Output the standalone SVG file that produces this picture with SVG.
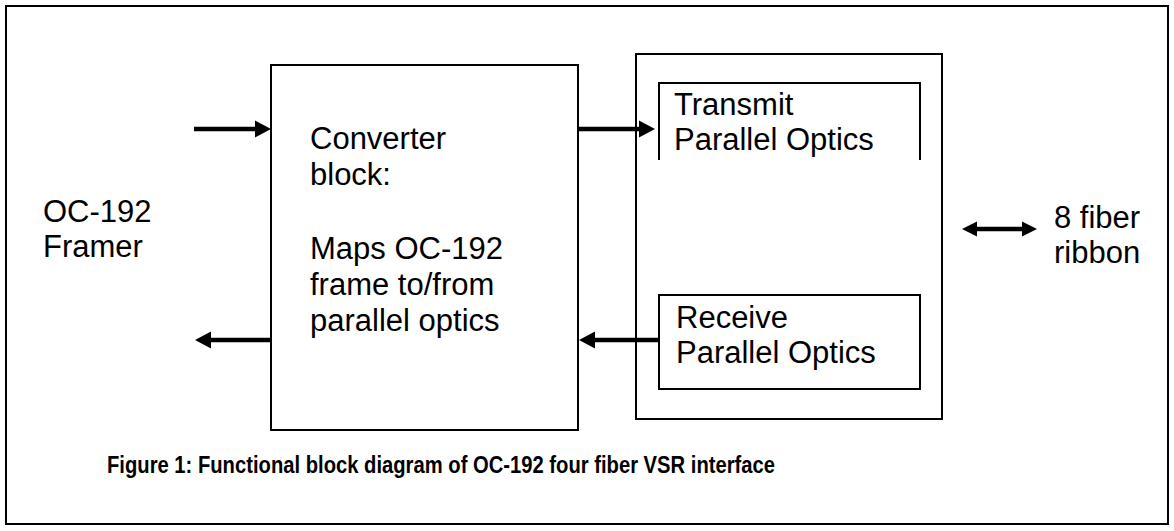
<svg xmlns="http://www.w3.org/2000/svg" width="1174" height="531" viewBox="0 0 1174 531">
  <style>
    .box { fill: none; stroke: #000; stroke-width: 2; }
    .lbl { font-family: "Liberation Sans", Arial, sans-serif; font-size: 31px; fill: #000; }
    .cap { font-family: "Liberation Sans", Arial, sans-serif; font-size: 23.5px; font-weight: bold; fill: #000; }
    .line { stroke: #000; stroke-width: 4.5; fill: none; }
    .head { fill: #000; stroke: none; }
  </style>
  <rect x="0" y="0" width="1174" height="531" fill="#fff"/>
  <rect id="frame" class="box" x="6" y="6" width="1162" height="518" stroke-width="2.5"/>

  <g id="framer">
    <text class="lbl" x="43" y="222">OC-192</text>
    <text class="lbl" x="43" y="257">Framer</text>
  </g>

  <g id="converter">
    <rect class="box" x="271" y="65" width="307" height="365"/>
    <text class="lbl" x="310" y="149">Converter</text>
    <text class="lbl" x="310" y="185">block:</text>
    <text class="lbl" x="310" y="259">Maps OC-192</text>
    <text class="lbl" x="310" y="295">frame to/from</text>
    <text class="lbl" x="310" y="331">parallel optics</text>
  </g>

  <g id="optics-module">
    <rect class="box" x="636" y="54" width="306" height="365"/>
  </g>

  <g id="transmit">
    <polyline class="box" points="659,160 659,83 920,83 920,160"/>
    <text class="lbl" x="674" y="115">Transmit</text>
    <text class="lbl" x="674" y="150">Parallel Optics</text>
  </g>

  <g id="receive">
    <rect class="box" x="659" y="295" width="261" height="94"/>
    <text class="lbl" x="676" y="328">Receive</text>
    <text class="lbl" x="676" y="363">Parallel Optics</text>
  </g>

  <g id="ribbon">
    <text class="lbl" x="1054" y="228">8 fiber</text>
    <text class="lbl" x="1054" y="263">ribbon</text>
  </g>

  <g id="connectors">
    <line class="line" x1="194" y1="129" x2="257" y2="129"/>
    <polygon class="head" points="255,120.5 271,129 255,137.5"/>

    <line class="line" x1="578" y1="129" x2="641" y2="129"/>
    <polygon class="head" points="639,120.5 655,129 639,137.5"/>

    <line class="line" x1="659" y1="340" x2="592" y2="340"/>
    <polygon class="head" points="595,331.5 579,340 595,348.5"/>

    <line class="line" x1="270" y1="340" x2="208" y2="340"/>
    <polygon class="head" points="211,331.5 195,340 211,348.5"/>

    <line class="line" x1="974" y1="229" x2="1025" y2="229"/>
    <polygon class="head" points="977,221.5 962,229 977,236.5"/>
    <polygon class="head" points="1022,221.5 1037,229 1022,236.5"/>
  </g>

  <g id="caption">
    <text class="cap" x="107" y="473" textLength="668" lengthAdjust="spacingAndGlyphs">Figure 1: Functional block diagram of OC-192 four fiber VSR interface</text>
  </g>
</svg>
